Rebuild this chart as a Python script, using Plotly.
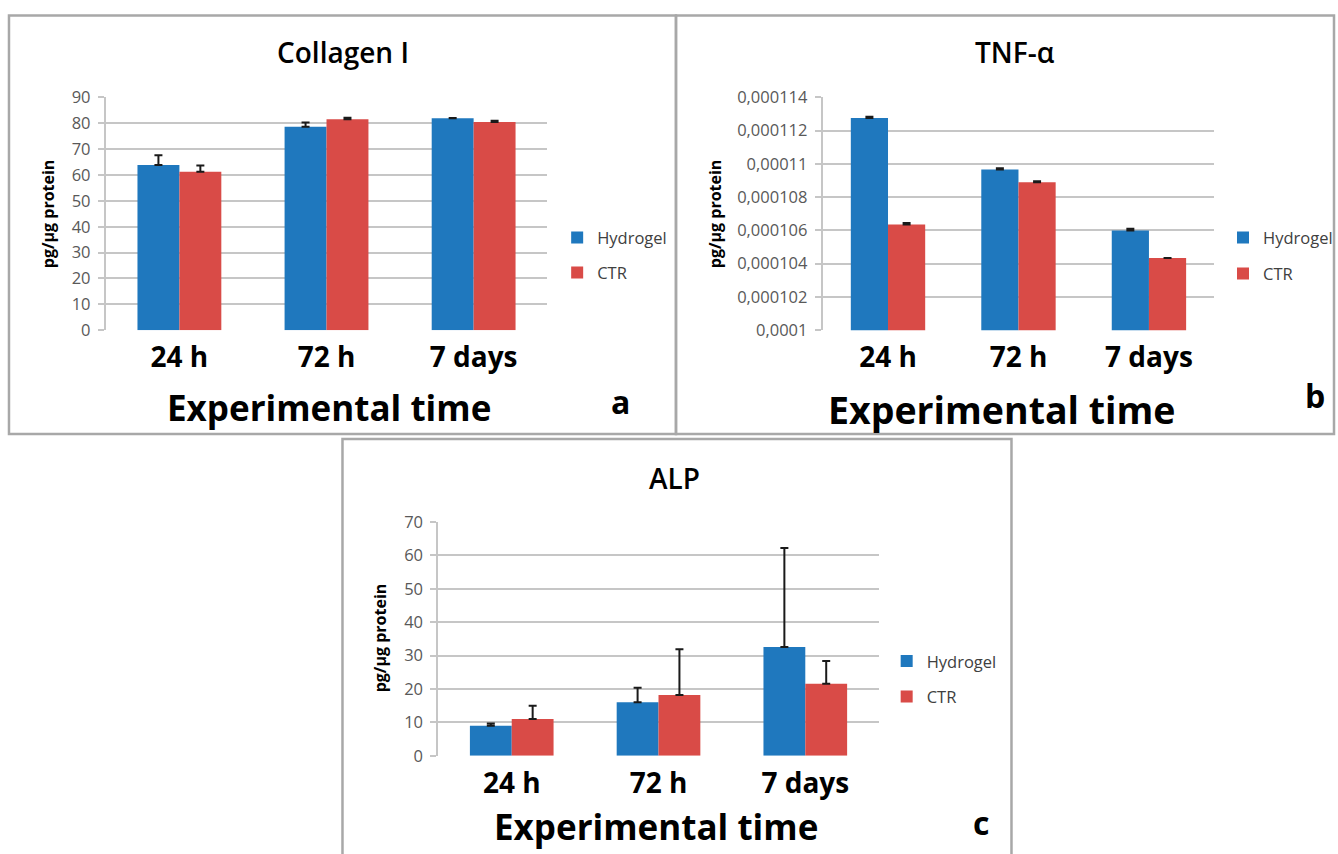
import plotly.graph_objects as go

# ---------------- data ----------------
categories = ["24 h", "72 h", "7 days"]
series_names = ["Hydrogel", "CTR"]

collagen_hydrogel = [63.9, 78.7, 81.9]
collagen_hydrogel_err = [3.7, 1.6, 0.1]
collagen_ctr = [61.3, 81.6, 80.5]
collagen_ctr_err = [2.4, 0.5, 0.5]

tnf_hydrogel = [0.00011276, 0.00010966, 0.00010600]
tnf_hydrogel_err = [0.00000008, 0.00000008, 0.00000010]
tnf_ctr = [0.00010636, 0.00010890, 0.00010434]
tnf_ctr_err = [0.00000008, 0.00000006, 0.0]

alp_hydrogel = [9.0, 16.0, 32.6]
alp_hydrogel_err = [0.7, 4.4, 29.6]
alp_ctr = [11.0, 18.2, 21.6]
alp_ctr_err = [4.0, 13.7, 6.8]

collagen_ticks = [0, 10, 20, 30, 40, 50, 60, 70, 80, 90]
tnf_tickvals = [0.0001, 0.000102, 0.000104, 0.000106, 0.000108, 0.00011, 0.000112, 0.000114]
tnf_ticktext = ["0,0001", "0,000102", "0,000104", "0,000106", "0,000108",
                "0,00011", "0,000112", "0,000114"]
alp_ticks = [0, 10, 20, 30, 40, 50, 60, 70]

panel_titles = ["Collagen I", "TNF-α", "ALP"]
panel_letters = ["a", "b", "c"]
x_title = "Experimental time"
y_title = "pg/µg protein"

# ---------------- styling ----------------
W, H = 1338, 854
BLUE = "#1F78BE"
RED = "#D94B47"
GRID = "#C6C6C6"
FONT = "'Open Sans', Lato, sans-serif"

# vertical correction observed in the rendered screenshot
Y_OFF, Y_SCALE = 10.5, 0.974


def px(x):
    return x / W


def py(y):
    return 1 - ((y - Y_OFF) / Y_SCALE) / H


fig = go.Figure()

panels = [
    dict(h=collagen_hydrogel, he=collagen_hydrogel_err, c=collagen_ctr, ce=collagen_ctr_err,
         xa="x", ya="y", leg="legend"),
    dict(h=tnf_hydrogel, he=tnf_hydrogel_err, c=tnf_ctr, ce=tnf_ctr_err,
         xa="x2", ya="y2", leg="legend2"),
    dict(h=alp_hydrogel, he=alp_hydrogel_err, c=alp_ctr, ce=alp_ctr_err,
         xa="x3", ya="y3", leg="legend3"),
]

for p in panels:
    for name, vals, errs, col in [(series_names[0], p["h"], p["he"], BLUE),
                                  (series_names[1], p["c"], p["ce"], RED)]:
        fig.add_trace(go.Bar(
            x=categories, y=vals, name=name,
            marker=dict(color=col, line=dict(width=0)),
            error_y=dict(type="data", symmetric=False, array=errs,
                         arrayminus=[0] * len(errs), color="#1a1a1a",
                         thickness=2, width=4),
            xaxis=p["xa"], yaxis=p["ya"], legend=p["leg"],
            legendgroup=p["leg"] + name,
        ))

# plot-area pixel boxes (left, right, top, bottom)
boxes = [(106, 548, 96, 329), (824, 1216, 96, 329), (439, 880, 521, 755)]

xcommon = dict(type="category", showgrid=False, ticks="", showline=False,
               tickfont=dict(family=FONT, size=28, color="black", weight="bold"),
               ticklabelstandoff=8, zeroline=False, fixedrange=True)
ycommon = dict(showgrid=True, gridcolor=GRID, gridwidth=2, showline=True,
               linecolor=GRID, linewidth=2, ticks="outside", ticklen=6,
               tickcolor=GRID, tickwidth=2, zeroline=False,
               ticklabelstandoff=4,
               tickfont=dict(family=FONT, size=16.5, color="#595959"),
               fixedrange=True)

layout = dict(
    width=W, height=H, margin=dict(l=0, r=0, t=0, b=0),
    paper_bgcolor="white", plot_bgcolor="white",
    barmode="group", bargap=0.43, bargroupgap=0,
    font=dict(family=FONT),
    separators=",.",
)

yspecs = [
    dict(range=[0, 90], tickvals=collagen_ticks),
    dict(range=[0.0001, 0.000114], tickvals=tnf_tickvals, ticktext=tnf_ticktext),
    dict(range=[0, 70], tickvals=alp_ticks),
]

for i, (l, r, t, b) in enumerate(boxes):
    sx = "" if i == 0 else str(i + 1)
    layout["xaxis" + sx] = dict(xcommon, domain=[px(l), px(r)], anchor="y" + sx)
    layout["yaxis" + sx] = dict(ycommon, domain=[py(b), py(t)], anchor="x" + sx, **yspecs[i])

legend_pos = [(558, 219, 10.5), (1225, 219, 11.5), (888, 643, 11)]
for i, (lx, ly, gap) in enumerate(legend_pos):
    key = "legend" if i == 0 else "legend" + str(i + 1)
    layout[key] = dict(x=px(lx), y=py(ly), xanchor="left", yanchor="top",
                       bgcolor="rgba(0,0,0,0)", tracegroupgap=gap,
                       font=dict(family=FONT, size=16.5, color="#404040"))

fig.update_layout(**layout)

# panel frames
frames = [(9, 677, 14, 433), (677, 1336, 14, 433), (343, 1013, 438, 880)]
for (l, r, t, b) in frames:
    fig.add_shape(type="rect", xref="paper", yref="paper",
                  x0=px(l), x1=px(r), y0=py(b), y1=py(t),
                  line=dict(color="#A8A8A8", width=2.5), fillcolor="rgba(0,0,0,0)")

# titles, axis titles, letters
title_pos = [(344, 51), (1017, 51), (676, 477)]
xt_pos = [(329, 406), (1003, 408), (657, 826)]
xt_size = [35, 37.5, 35]
yt_pos = [(48, 212), (716, 212), (380, 637)]
letter_pos = [(621, 400), (1317, 394), (982, 822)]

for i in range(3):
    common = dict(xref="paper", yref="paper", showarrow=False,
                  xanchor="center", yanchor="middle")
    fig.add_annotation(x=px(title_pos[i][0]), y=py(title_pos[i][1]),
                       text=panel_titles[i],
                       font=dict(family=FONT, size=28, color="black", weight=600), **common)
    fig.add_annotation(x=px(xt_pos[i][0]), y=py(xt_pos[i][1]),
                       text=x_title,
                       font=dict(family=FONT, size=xt_size[i], color="black", weight="bold"), **common)
    fig.add_annotation(x=px(yt_pos[i][0]), y=py(yt_pos[i][1]),
                       text=y_title, textangle=-90,
                       font=dict(family=FONT, size=16, color="black", weight="bold"), **common)
    fig.add_annotation(x=px(letter_pos[i][0]), y=py(letter_pos[i][1]),
                       text=panel_letters[i],
                       font=dict(family=FONT, size=32, color="black", weight="bold"), **common)

fig.write_html("out.html")
